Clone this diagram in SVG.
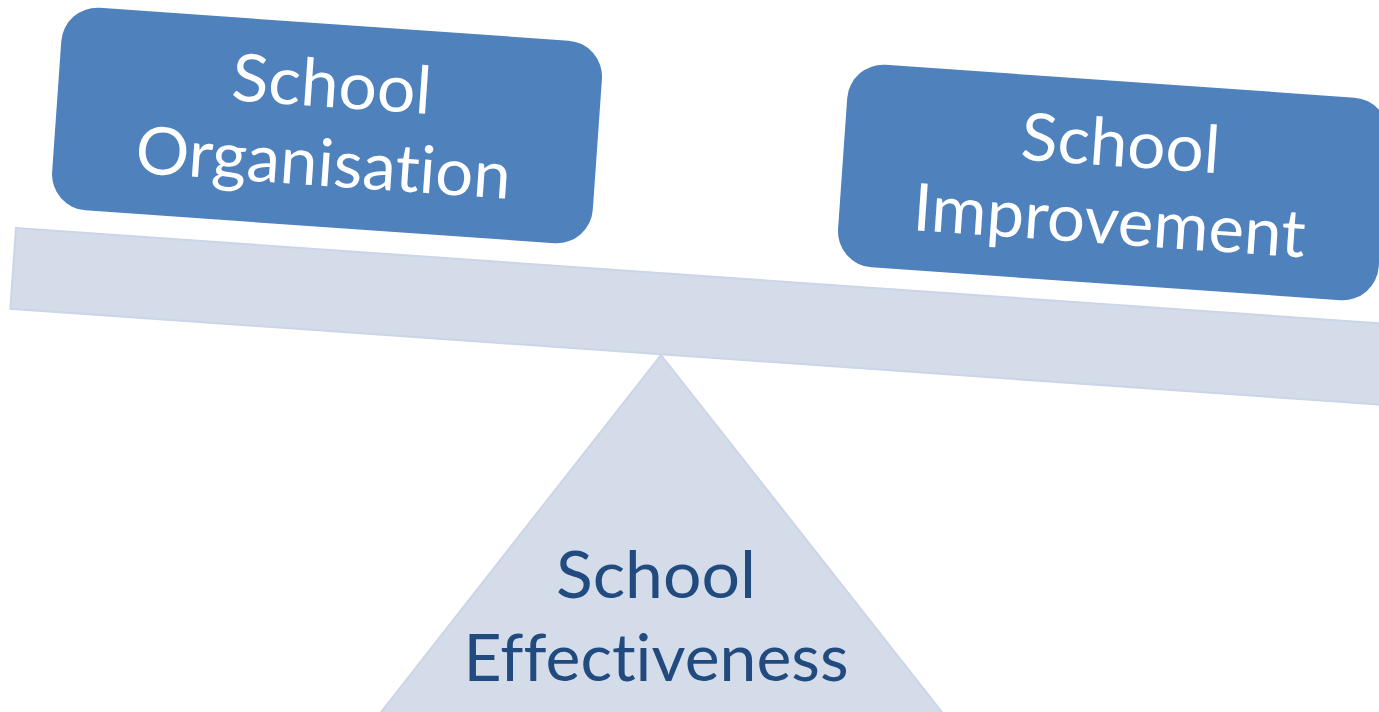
<svg xmlns="http://www.w3.org/2000/svg" width="1379" height="712" viewBox="0 0 1379 712">
<style>
.plank{fill:#D4DCEA;stroke:#CCD5E7;stroke-width:2}
.box{fill:#4F81BD}
.wt,.bt{font-family:Lato,"Liberation Sans",sans-serif;font-size:66px;text-anchor:middle;font-variant-ligatures:none;font-feature-settings:"liga" 0,"clig" 0,"dlig" 0}
.wt{fill:#FFFFFF}
.bt{fill:#214B7E}
</style>
<rect width="1379" height="712" fill="#FFFFFF"/>
<g id="beam">
<rect class="plank" x="16" y="228" width="1420" height="81" transform="rotate(4 16 228)"/>
</g>
<g id="fulcrum">
<polygon class="plank" points="661,355 378,716 945,716"/>
<text class="bt" x="656" y="598" textLength="200" lengthAdjust="spacingAndGlyphs">School</text>
<text class="bt" x="656" y="681" textLength="385" lengthAdjust="spacingAndGlyphs">Effectiveness</text>
</g>
<g id="school-organisation" transform="rotate(4 327 126)">
<rect class="box" x="56" y="24" width="542" height="203" rx="36" ry="36"/>
<text class="wt" x="329" y="107" textLength="200" lengthAdjust="spacingAndGlyphs">School</text>
<text class="wt" x="326" y="186" textLength="376" lengthAdjust="spacingAndGlyphs">Organisation</text>
</g>
<g id="school-improvement" transform="rotate(4 1113 182)">
<rect class="box" x="842" y="81" width="542" height="203" rx="36" ry="36"/>
<text class="wt" x="1118" y="166" textLength="199" lengthAdjust="spacingAndGlyphs">School</text>
<text class="wt" x="1112" y="244" textLength="393" lengthAdjust="spacingAndGlyphs">Improvement</text>
</g>
<g id="connectors"></g>
</svg>
